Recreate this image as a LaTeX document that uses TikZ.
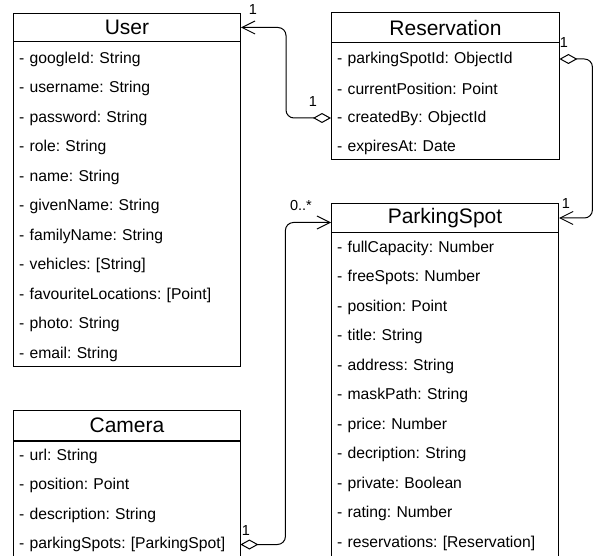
\documentclass[tikz,border=0pt]{standalone}
\usepackage{fontspec}
\setmainfont{Liberation Sans}
\frenchspacing
\usetikzlibrary{arrows.meta,positioning}

\tikzset{
  classname/.style={draw, line width=1pt, anchor=north west, inner sep=0pt, font=\fontsize{21}{24}\selectfont},
  classbody/.style={draw, line width=1pt},
  attr/.style={anchor=west, inner xsep=6pt, inner ysep=0pt, align=left, font=\fontsize{15.7}{18}\selectfont},
  mult/.style={inner sep=0pt, font=\fontsize{14.5}{16}\selectfont},
  agg/.style={line width=1pt, rounded corners=8pt,
    {Diamond[open,length=18pt,width=10pt]}-{Straight Barb[length=13pt,width=13pt]}}
}

\begin{document}
\begin{tikzpicture}[x=1pt, y=-1pt]
  \clip (0,0) rectangle (597,556);

  % User
  \node[classname, minimum width=227pt, minimum height=28pt] (user) at (13,13) {User};
  \draw[classbody] (user.south west) rectangle (240,366);
  \foreach \attr [count=\i] in {googleId: String, username: String, password: String,
      role: String, name: String, givenName: String, familyName: String,
      {vehicles: [String]}, {favouriteLocations: [Point]}, photo: String, email: String}
    \node[attr, text width=215pt] (user-\i) at (13,29.5+29.5*\i) {- \attr};

  % Reservation
  \node[classname, minimum width=228pt, minimum height=30pt] (res) at (331,12) {Reservation};
  \draw[classbody] (res.south west) rectangle (559,160);
  \foreach \attr [count=\i] in {parkingSpotId: ObjectId, currentPosition: Point,
      createdBy: ObjectId, expiresAt: Date}
    \node[attr, text width=216pt] (res-\i) at (331,29.5+29.5*\i) {- \attr};

  % ParkingSpot
  \node[classname, minimum width=227pt, minimum height=29pt] (park) at (331,203) {ParkingSpot};
  \draw[classbody] (park.south west) rectangle (558,562);
  \foreach \attr [count=\i] in {fullCapacity: Number, freeSpots: Number, position: Point,
      title: String, address: String, maskPath: String, price: Number,
      decription: String, private: Boolean, rating: Number, {reservations: [Reservation]}}
    \node[attr, text width=215pt] (park-\i) at (331,218.5+29.5*\i) {- \attr};

  % Camera
  \node[classname, minimum width=227pt, minimum height=30pt] (cam) at (13,410) {Camera};
  \draw[classbody] (cam.south west) rectangle (240,562);
  \foreach \attr [count=\i] in {url: String, position: Point, description: String,
      {parkingSpots: [ParkingSpot]}}
    \node[attr, text width=215pt] (cam-\i) at (13,426.5+29.5*\i) {- \attr};

  % associations
  \draw[agg] (res-3.west) -| ([xshift=45pt]user.east) -- (user.east);
  \draw[agg] (res-1.east) -- ++(33,0) |- (park.east);
  \draw[agg] (cam-4.east) -- ++(45,0) |- ([yshift=-4.5pt]park.west);

  % multiplicities
  \node[mult] (m-user) at (253,10) {1};
  \node[mult] (m-res-c) at (313,102) {1};
  \node[mult] (m-res-p) at (564,43) {1};
  \node[mult] (m-park-r) at (566,204) {1};
  \node[mult] (m-park-c) at (301,206) {0..*};
  \node[mult] (m-cam) at (246,531) {1};
\end{tikzpicture}
\end{document}
